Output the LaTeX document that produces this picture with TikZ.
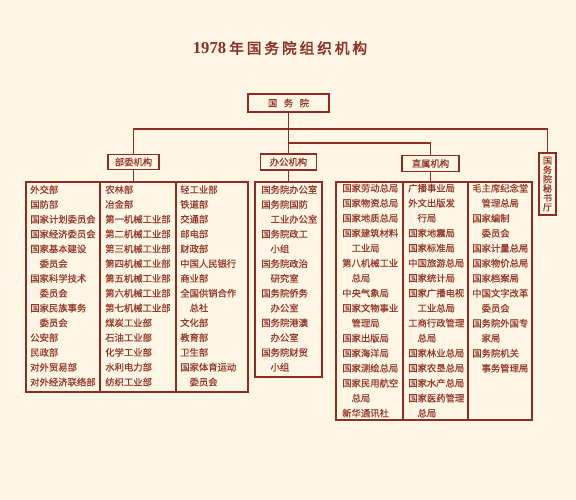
\documentclass[tikz,border=0pt]{standalone}
\usepackage{fontspec}
\setmainfont{Noto Sans CJK SC}[FakeBold=0.4]
\newfontfamily\titlenum{Liberation Serif}
\newfontfamily\titlecjk{Noto Sans CJK SC}[FakeBold=2.2, LetterSpace=20]
\usepackage{tikz}
\usetikzlibrary{fit}
\definecolor{bg}{HTML}{FDF6E4}
\definecolor{ink}{HTML}{8E2C22}
\definecolor{txt}{HTML}{953628}
\tikzset{
  link/.style={draw=ink, line width=0.9pt},
  catbox/.style={draw=ink, line width=0.9pt, text=txt, inner sep=0pt, minimum height=11.5pt, font=\fontsize{7}{8}\selectfont},
  listbox/.style={draw=ink, line width=0.9pt, inner sep=0pt},
  col/.style={anchor=north west, align=left, inner sep=0pt, text=txt},
}
\newcommand{\ind}{\hspace*{1em}}

\begin{document}
\begin{tikzpicture}[x=0.75pt,y=-0.75pt]
\fill[bg] (0,0) rectangle (576,500);
\useasboundingbox (0,0) rectangle (576,500);

% title
\node[text=ink] (title) at (280,48) {{\titlenum\bfseries\fontsize{12.5}{14}\selectfont 1978} {\titlecjk\fontsize{11}{13}\selectfont 年国务院组织机构}};

% top level
\node[catbox, minimum width=60.75pt, minimum height=13.5pt] (gwy) at (288.5,103) {国\hspace{0.7em}务\hspace{0.7em}院};
\node[catbox, minimum width=38.25pt] (bwjg) at (133.5,162) {部委机构};
\node[catbox, minimum width=42pt, minimum height=12pt] (bgjg) at (288.5,162) {办公机构};
\node[catbox, minimum width=42.75pt] (zsjg) at (430.5,163.5) {直属机构};
\node[catbox, align=center, minimum width=12.75pt, minimum height=46.5pt, font=\fontsize{6.8}{7}\selectfont] (msbox) at (547.5,184) {国\\务\\院\\秘\\书\\厅};

\coordinate (hubA) at (288.5,129);
\coordinate (hubB) at (288.5,143);
\draw[link] (gwy.south) -- (bgjg.north);
\draw[link] (bwjg.north) |- (hubA) -| (msbox.north);
\draw[link] (hubB) -| (zsjg.north);

% list boxes
\node[listbox, fit={(26,182) (248,392)}] (bwlist) {};
\node[listbox, fit={(255,182) (322,377)}] (bglist) {};
\node[listbox, fit={(336,182) (532,420)}] (zslist) {};
\draw[link] (100,182) -- (100,392);
\draw[link] (176,182) -- (176,392);
\draw[link] (403,182) -- (403,420);
\draw[link] (468,182) -- (468,420);

\draw[link] (bwjg.south) -- (bwjg.south |- bwlist.north);
\draw[link] (bgjg.south) -- (bgjg.south |- bglist.north);
\draw[link] (zsjg.south) -- (zsjg.south |- zslist.north);

% 部委机构
\node[col, font=\fontsize{7}{11.1}\selectfont] (bwA) at (30,185) {外交部\\国防部\\国家计划委员会\\国家经济委员会\\国家基本建设\\\ind 委员会\\国家科学技术\\\ind 委员会\\国家民族事务\\\ind 委员会\\公安部\\民政部\\对外贸易部\\对外经济联络部};
\node[col, font=\fontsize{7}{11.1}\selectfont] (bwB) at (105,185) {农林部\\冶金部\\第一机械工业部\\第二机械工业部\\第三机械工业部\\第四机械工业部\\第五机械工业部\\第六机械工业部\\第七机械工业部\\煤炭工业部\\石油工业部\\化学工业部\\水利电力部\\纺织工业部};
\node[col, font=\fontsize{7}{11.1}\selectfont] (bwC) at (180,185) {轻工业部\\铁道部\\交通部\\邮电部\\财政部\\中国人民银行\\商业部\\全国供销合作\\\ind 总社\\文化部\\教育部\\卫生部\\国家体育运动\\\ind 委员会};

% 办公机构
\node[col, font=\fontsize{7}{11.1}\selectfont] (bgA) at (261,185) {国务院办公室\\国务院国防\\\ind 工业办公室\\国务院政工\\\ind 小组\\国务院政治\\\ind 研究室\\国务院侨务\\\ind 办公室\\国务院港澳\\\ind 办公室\\国务院财贸\\\ind 小组};

% 直属机构
\node[col, font=\fontsize{7}{11.25}\selectfont] (zsA) at (342,183.5) {国家劳动总局\\国家物资总局\\国家地质总局\\国家建筑材料\\\ind 工业局\\第八机械工业\\\ind 总局\\中央气象局\\国家文物事业\\\ind 管理局\\国家出版局\\国家海洋局\\国家测绘总局\\国家民用航空\\\ind 总局\\新华通讯社};
\node[col, font=\fontsize{7}{11.25}\selectfont] (zsB) at (408,183.5) {广播事业局\\外文出版发\\\ind 行局\\国家地震局\\国家标准局\\中国旅游总局\\国家统计局\\国家广播电视\\\ind 工业总局\\工商行政管理\\\ind 总局\\国家林业总局\\国家农垦总局\\国家水产总局\\国家医药管理\\\ind 总局};
\node[col, font=\fontsize{7}{11.25}\selectfont] (zsC) at (472,183.5) {毛主席纪念堂\\\ind 管理总局\\国家编制\\\ind 委员会\\国家计量总局\\国家物价总局\\国家档案局\\中国文字改革\\\ind 委员会\\国务院外国专\\\ind 家局\\国务院机关\\\ind 事务管理局};
\end{tikzpicture}
\end{document}
